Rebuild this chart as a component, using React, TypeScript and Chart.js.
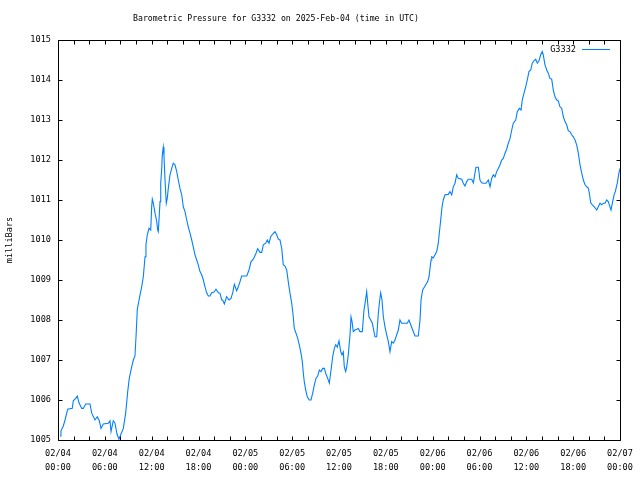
import React, { useEffect, useRef } from 'react';
import { Chart, registerables } from 'chart.js';

Chart.register(...registerables);

const FONT_FAMILY = '"DejaVu Sans Mono", "Liberation Mono", monospace';
const chartTitle = 'Barometric Pressure for G3332 on 2025-Feb-04 (time in UTC)';
const yAxisTitle = 'milliBars';
const seriesName = 'G3332';
const lineColor = '#0080ff';

const dayLabels = ['02/04', '02/04', '02/04', '02/04', '02/05', '02/05', '02/05', '02/05', '02/06', '02/06', '02/06', '02/06', '02/07'];
const timeLabels = ['00:00', '06:00', '12:00', '18:00', '00:00', '06:00', '12:00', '18:00', '00:00', '06:00', '12:00', '18:00', '00:00'];

// hours since 2025-02-04 00:00 UTC
const hours = [
  0.26, 0.38, 0.68, 0.90, 1.24, 1.83, 1.96, 2.27, 2.47, 2.69, 3.04, 3.24, 3.55, 4.10, 4.32, 4.74, 5.03, 5.29, 5.51, 5.80,
  6.44, 6.66, 6.79, 7.08, 7.30, 7.56, 7.81, 8.07, 8.37, 8.67, 8.93, 9.13, 9.44, 9.65, 9.86, 10.00, 10.16, 10.42, 10.72, 10.93,
  11.15, 11.27, 11.44, 11.66, 11.88, 12.00, 12.08, 12.21, 12.43, 12.65, 12.77, 12.85, 12.94, 13.07, 13.16, 13.29, 13.36, 13.49, 13.58, 13.71,
  13.87, 14.00, 14.13, 14.35, 14.57, 14.77, 14.99, 15.21, 15.41, 15.63, 15.85, 16.05, 16.27, 16.49, 16.69, 16.91, 17.13, 17.33, 17.55, 17.77,
  17.97, 18.19, 18.41, 18.62, 18.83, 19.05, 19.26, 19.47, 19.69, 19.99, 20.24, 20.54, 20.75, 20.97, 21.10, 21.31, 21.61, 21.91, 22.16, 22.38,
  22.59, 22.89, 23.10, 23.32, 23.53, 24.18, 24.47, 24.73, 25.02, 25.37, 25.58, 25.88, 26.10, 26.30, 26.61, 26.81, 27.03, 27.25, 27.51, 27.80,
  28.02, 28.22, 28.44, 28.66, 28.86, 29.08, 29.30, 29.50, 29.72, 29.94, 30.14, 30.27, 30.49, 30.71, 30.91, 31.13, 31.30, 31.43, 31.55, 31.73,
  31.94, 32.19, 32.41, 32.63, 32.84, 33.05, 33.27, 33.48, 33.69, 33.91, 34.12, 34.33, 34.55, 34.76, 34.98, 35.19, 35.40, 35.58, 35.78, 36.00,
  36.22, 36.38, 36.55, 36.68, 36.86, 36.99, 37.19, 37.41, 37.54, 37.67, 37.83, 38.05, 38.27, 38.47, 38.69, 38.99, 39.20, 39.37, 39.55, 39.68,
  39.84, 40.06, 40.27, 40.48, 40.61, 40.83, 41.04, 41.17, 41.34, 41.51, 41.68, 41.89, 42.11, 42.32, 42.53, 42.75, 42.96, 43.17, 43.39, 43.60,
  43.81, 44.03, 44.36, 44.75, 44.97, 45.19, 45.44, 45.74, 46.16, 46.38, 46.51, 46.72, 47.02, 47.36, 47.53, 47.66, 47.79, 47.88, 48.08, 48.30,
  48.52, 48.72, 48.85, 49.03, 49.20, 49.36, 49.58, 50.00, 50.22, 50.44, 50.64, 50.86, 51.08, 51.28, 51.72, 51.92, 52.14, 52.36, 52.57, 53.00,
  53.21, 53.42, 53.55, 53.85, 54.06, 54.28, 54.49, 54.83, 55.13, 55.35, 55.56, 55.77, 55.99, 56.20, 56.41, 56.63, 56.84, 57.05, 57.27, 57.48,
  57.69, 57.91, 58.13, 58.33, 58.64, 58.84, 59.10, 59.32, 59.48, 59.70, 59.92, 60.12, 60.34, 60.56, 60.76, 60.98, 61.20, 61.41, 61.62, 61.84,
  62.04, 62.17, 62.39, 62.61, 62.81, 63.03, 63.25, 63.45, 63.67, 63.89, 64.09, 64.31, 64.53, 64.74, 64.95, 65.17, 65.38, 65.59, 65.81, 66.02,
  66.24, 66.45, 66.66, 66.88, 67.10, 67.30, 67.52, 67.74, 67.94, 68.07, 68.25, 68.46, 68.71, 69.02, 69.22, 69.44, 69.66, 69.86, 70.08, 70.30,
  70.50, 70.63, 70.85, 71.02, 71.24, 71.40, 71.65, 71.86, 72.00,
];

const pressure = [
  1005.10, 1005.23, 1005.35, 1005.50, 1005.77, 1005.79, 1005.98, 1006.04, 1006.10, 1005.93, 1005.79, 1005.79, 1005.90, 1005.90, 1005.67, 1005.50, 1005.58, 1005.48, 1005.29, 1005.40,
  1005.42, 1005.48, 1005.21, 1005.48, 1005.42, 1005.15, 1005.02, 1005.15, 1005.29, 1005.67, 1006.21, 1006.54, 1006.83, 1007.00, 1007.10, 1007.60, 1008.27, 1008.54, 1008.83, 1009.08,
  1009.58, 1009.88, 1010.13, 1010.29, 1010.25, 1010.83, 1011.02, 1010.92, 1010.67, 1010.46, 1010.25, 1010.21, 1010.50, 1010.96, 1011.42, 1011.79, 1012.13, 1012.32, 1012.08, 1011.50,
  1010.92, 1011.04, 1011.29, 1011.63, 1011.79, 1011.92, 1011.88, 1011.71, 1011.50, 1011.29, 1011.13, 1010.83, 1010.71, 1010.50, 1010.33, 1010.17, 1010.00, 1009.83, 1009.63, 1009.50,
  1009.38, 1009.21, 1009.13, 1009.00, 1008.83, 1008.68, 1008.60, 1008.60, 1008.68, 1008.70, 1008.77, 1008.68, 1008.67, 1008.50, 1008.50, 1008.40, 1008.58, 1008.50, 1008.54, 1008.68,
  1008.89, 1008.73, 1008.83, 1008.96, 1009.10, 1009.10, 1009.25, 1009.46, 1009.52, 1009.67, 1009.78, 1009.69, 1009.69, 1009.88, 1009.92, 1010.00, 1009.92, 1010.08, 1010.15, 1010.21,
  1010.13, 1010.02, 1010.00, 1009.79, 1009.38, 1009.35, 1009.25, 1008.96, 1008.67, 1008.42, 1008.08, 1007.79, 1007.67, 1007.54, 1007.38, 1007.17, 1006.96, 1006.67, 1006.46, 1006.25,
  1006.08, 1006.00, 1006.00, 1006.17, 1006.38, 1006.54, 1006.60, 1006.75, 1006.71, 1006.79, 1006.79, 1006.65, 1006.54, 1006.42, 1006.75, 1007.08, 1007.29, 1007.38, 1007.32, 1007.48,
  1007.21, 1007.13, 1007.20, 1006.83, 1006.71, 1006.83, 1007.13, 1007.63, 1008.08, 1007.96, 1007.71, 1007.75, 1007.77, 1007.79, 1007.71, 1007.71, 1008.25, 1008.46, 1008.71, 1008.42,
  1008.08, 1008.00, 1007.92, 1007.71, 1007.58, 1007.58, 1008.17, 1008.42, 1008.68, 1008.50, 1008.08, 1007.83, 1007.63, 1007.46, 1007.21, 1007.46, 1007.42, 1007.50, 1007.63, 1007.75,
  1008.00, 1007.92, 1007.92, 1007.92, 1008.00, 1007.88, 1007.75, 1007.60, 1007.60, 1008.00, 1008.50, 1008.75, 1008.85, 1008.96, 1009.08, 1009.29, 1009.50, 1009.58, 1009.55, 1009.63,
  1009.71, 1009.92, 1010.17, 1010.50, 1010.83, 1011.00, 1011.13, 1011.14, 1011.21, 1011.13, 1011.33, 1011.42, 1011.63, 1011.54, 1011.52, 1011.42, 1011.35, 1011.46, 1011.52, 1011.52,
  1011.43, 1011.67, 1011.82, 1011.82, 1011.50, 1011.43, 1011.42, 1011.42, 1011.50, 1011.33, 1011.54, 1011.63, 1011.58, 1011.71, 1011.79, 1011.88, 1012.00, 1012.04, 1012.17, 1012.27,
  1012.42, 1012.54, 1012.75, 1012.92, 1013.00, 1013.21, 1013.29, 1013.25, 1013.50, 1013.67, 1013.83, 1014.00, 1014.21, 1014.25, 1014.42, 1014.48, 1014.52, 1014.42, 1014.48, 1014.63,
  1014.71, 1014.63, 1014.38, 1014.25, 1014.17, 1014.04, 1014.02, 1013.75, 1013.58, 1013.50, 1013.48, 1013.33, 1013.29, 1013.08, 1012.96, 1012.88, 1012.73, 1012.71, 1012.63, 1012.58,
  1012.50, 1012.38, 1012.17, 1011.88, 1011.67, 1011.50, 1011.38, 1011.33, 1011.30, 1011.17, 1010.93, 1010.88, 1010.83, 1010.75, 1010.83, 1010.92, 1010.88, 1010.92, 1010.92, 1011.00,
  1010.96, 1010.88, 1010.75, 1010.92, 1011.13, 1011.21, 1011.42, 1011.67, 1011.79,
];

const X_MIN = 0;
const X_MAX = 72;
const X_MINOR_STEP = 2;
const X_LABEL_STEP = 6;
const Y_MIN = 1005;
const Y_MAX = 1015;
const Y_STEP = 1;

const FONT_SIZE = 8.6;
const TITLE_FONT_SIZE = 8.2;

const framePlugin = {
  id: 'gnuplotFrame',
  afterDraw(chart: any) {
    const { ctx, chartArea, scales } = chart;
    const { left, right, top, bottom } = chartArea;
    const xs = scales.x;
    const ys = scales.y;
    ctx.save();
    ctx.strokeStyle = '#000';
    ctx.lineWidth = 1;
    const L = Math.round(left) + 0.5;
    const R = Math.round(right) + 0.5;
    const T = Math.round(top) + 0.5;
    const B = Math.round(bottom) + 0.5;
    ctx.beginPath();
    ctx.rect(L, T, R - L, B - T);
    const tl = 4;
    for (let h = X_MIN; h <= X_MAX; h += X_MINOR_STEP) {
      const x = Math.round(xs.getPixelForValue(h)) + 0.5;
      ctx.moveTo(x, B);
      ctx.lineTo(x, B - tl);
      ctx.moveTo(x, T);
      ctx.lineTo(x, T + tl);
    }
    for (let v = Y_MIN; v <= Y_MAX; v += Y_STEP) {
      const y = Math.round(ys.getPixelForValue(v)) + 0.5;
      ctx.moveTo(L, y);
      ctx.lineTo(L + tl, y);
      ctx.moveTo(R, y);
      ctx.lineTo(R - tl, y);
    }
    ctx.stroke();

    ctx.fillStyle = '#000';
    ctx.font = `${TITLE_FONT_SIZE}px ${FONT_FAMILY}`;
    ctx.textAlign = 'center';
    ctx.textBaseline = 'middle';
    ctx.fillText(chartTitle, 276, 19);

    // key
    ctx.font = `${FONT_SIZE}px ${FONT_FAMILY}`;
    ctx.textAlign = 'right';
    ctx.fillText(seriesName, right - 44, 50);
    ctx.strokeStyle = lineColor;
    ctx.beginPath();
    ctx.moveTo(right - 38, 49.5);
    ctx.lineTo(right - 10, 49.5);
    ctx.stroke();
    ctx.restore();
  },
};

export default function App() {
  const ref = useRef<HTMLCanvasElement>(null);
  useEffect(() => {
    const font = { family: FONT_FAMILY, size: FONT_SIZE };
    const chart = new Chart(ref.current as HTMLCanvasElement, {
      type: 'line',
      data: {
        datasets: [
          {
            label: seriesName,
            data: hours.map((h, i) => ({ x: h, y: pressure[i] })),
            borderColor: lineColor,
            borderWidth: 1.1,
            pointRadius: 0,
            tension: 0,
            fill: false,
          },
        ],
      },
      options: {
        animation: false,
        responsive: false,
        devicePixelRatio: 1,
        layout: { padding: { top: 40, right: 20, left: 0, bottom: 0 } },
        plugins: {
          legend: { display: false },
          tooltip: { enabled: false },
          title: { display: false },
        },
        scales: {
          x: {
            type: 'linear',
            min: X_MIN,
            max: X_MAX,
            grid: { display: false },
            border: { display: false },
            ticks: {
              stepSize: X_MINOR_STEP,
              autoSkip: false,
              maxRotation: 0,
              minRotation: 0,
              padding: -1,
              color: '#000',
              font: { ...font, lineHeight: 1.63 },
              callback: (v: any) => {
                const n = Number(v);
                if (n % X_LABEL_STEP !== 0) return '';
                const i = n / X_LABEL_STEP;
                return [dayLabels[i], timeLabels[i]];
              },
            },
            afterFit: (s: any) => {
              s.height = 40;
            },
          },
          y: {
            type: 'linear',
            min: Y_MIN,
            max: Y_MAX,
            grid: { display: false },
            border: { display: false },
            ticks: {
              stepSize: Y_STEP,
              padding: -1,
              color: '#000',
              font,
              callback: (v: any) => String(v),
            },
            title: {
              display: true,
              text: yAxisTitle,
              color: '#000',
              font,
              padding: { top: 5, bottom: 0 },
            },
            afterFit: (s: any) => {
              s.width = 58;
            },
          },
        },
      },
      plugins: [framePlugin],
    } as any);
    return () => chart.destroy();
  }, []);
  return (
    <div style={{ position: 'fixed', left: 0, top: 0, width: 640, height: 480, background: '#fff' }}>
      <canvas ref={ref} width={640} height={480} style={{ display: 'block' }} />
    </div>
  );
}
